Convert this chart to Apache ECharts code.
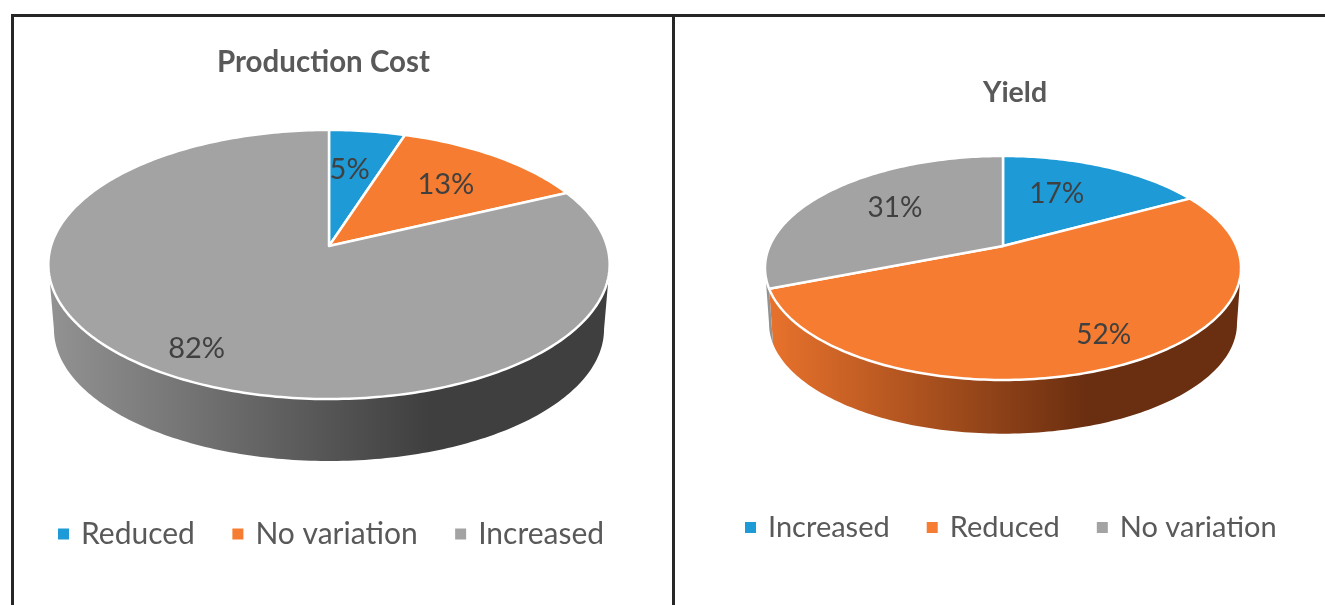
<!DOCTYPE html>
<html>
<head>
<meta charset="utf-8">
<title>Production Cost and Yield</title>
<script src="https://cdn.jsdelivr.net/npm/echarts@6/dist/echarts.min.js"></script>
<style>
  html, body { margin: 0; padding: 0; background: #fff; }
  #page { position: relative; width: 1325px; height: 605px; overflow: hidden; }
  #costChart { position: absolute; left: 0; top: 0; width: 673px; height: 605px; }
  #yieldChart { position: absolute; left: 673px; top: 0; width: 652px; height: 605px; }
  .rule { position: absolute; background: #262626; }
</style>
</head>
<body>
<div id="page">
  <div id="costChart"></div>
  <div id="yieldChart"></div>
  <div class="rule" style="left:11px;top:14px;width:1314px;height:3px"></div>
  <div class="rule" style="left:11px;top:14px;width:3px;height:591px"></div>
  <div class="rule" style="left:672px;top:14px;width:3px;height:591px"></div>
</div>
<script>
const costCategories = ['Reduced', 'No variation', 'Increased'];
const costValues = [5, 13, 82];
const costColors = ['#1e9ad6', '#f57c30', '#a3a3a3'];
const costWalls = [['#1a7fb0', '#0e4a68'], ['#e8722c', '#6a2e10'], ['#929292', '#3f3f3f']];

const yieldCategories = ['Increased', 'Reduced', 'No variation'];
const yieldValues = [17, 52, 31];
const yieldColors = ['#1e9ad6', '#f57c30', '#a3a3a3'];
const yieldWalls = [['#1a7fb0', '#0e4a68'], ['#e8722c', '#6a2e10'], ['#929292', '#3f3f3f']];

const FONT = 'Lato, "Open Sans", sans-serif';

// circle seen in perspective: k moves the centre of the pie above the middle of the ellipse
function project(p, u, v) {
  const d = 1 + p.k * v;
  return [p.cx + p.r * u / d, p.cy - p.s * v / d];
}

function bottomOf(p, pt) {
  return [p.cx + (pt[0] - p.cx) * p.wallScale, p.cy + p.wallDrop + (pt[1] - p.cy) * p.wallScale];
}

function arcPoints(p, from, to) {
  const pts = [];
  const n = Math.max(2, Math.ceil((to - from) / (Math.PI / 180)));
  for (let i = 0; i <= n; i++) {
    const a = from + (to - from) * i / n;
    pts.push(project(p, Math.sin(a), Math.cos(a)));
  }
  return pts;
}

function buildOption(p, categories, values, colors, walls) {
  const total = values.reduce((a, b) => a + b, 0);
  const starts = [];
  values.reduce((sum, v, i) => { starts[i] = sum; return sum + v; }, 0);
  const toAngle = v => v / total * Math.PI * 2;

  // the part of the rim that faces the viewer
  const rimFrom = Math.PI / 2 + Math.asin(p.k);
  const rimTo = Math.PI * 1.5 - Math.asin(p.k);

  const series = categories.map((name, idx) => ({
    type: 'custom',
    name: name,
    coordinateSystem: 'none',
    silent: true,
    animation: false,
    itemStyle: { color: colors[idx] },
    data: [[values[idx]]],
    renderItem: function (params, api) {
      const value = api.value(0);
      const a0 = toAngle(starts[idx]);
      const a1 = toAngle(starts[idx] + value);
      const children = [];

      const w0 = Math.max(a0, rimFrom);
      const w1 = Math.min(a1, rimTo);
      if (w1 > w0) {
        const topEdge = arcPoints(p, w0, w1);
        const lowEdge = topEdge.map(pt => bottomOf(p, pt)).reverse();
        children.push({
          type: 'polygon',
          z2: 0,
          shape: { points: topEdge.concat(lowEdge) },
          style: {
            fill: new echarts.graphic.LinearGradient(p.cx - p.r, 0, p.cx + p.r, 0, [
              { offset: 0, color: walls[idx][0] },
              { offset: p.wallFlat, color: walls[idx][1] },
              { offset: 1, color: walls[idx][1] }
            ], true)
          }
        });
      }

      children.push({
        type: 'polygon',
        z2: 1,
        shape: { points: [[p.cx, p.cy]].concat(arcPoints(p, a0, a1)) },
        style: { fill: colors[idx], stroke: '#fff', lineWidth: 2.5, lineJoin: 'round' }
      });

      const mid = (a0 + a1) / 2;
      const rho = p.labelRadius[idx];
      const at = project(p, Math.sin(mid) * rho, Math.cos(mid) * rho);
      children.push({
        type: 'text',
        z2: 1,
        x: at[0] + p.labelNudge[idx][0],
        y: at[1] + p.labelNudge[idx][1],
        style: {
          text: value + '%',
          fill: '#404040',
          font: p.labelSize + 'px ' + FONT,
          align: 'center',
          verticalAlign: 'middle'
        }
      });
      return { type: 'group', children: children };
    }
  }));

  return {
    backgroundColor: 'transparent',
    animation: false,
    title: {
      text: p.title,
      left: p.titleX,
      top: p.titleY,
      textAlign: 'center',
      textStyle: { color: '#595959', fontFamily: FONT, fontWeight: 'bold', fontSize: p.titleSize }
    },
    legend: {
      left: p.legendX,
      top: p.legendY,
      padding: 0,
      icon: 'rect',
      itemWidth: 11,
      itemHeight: 11,
      itemGap: p.legendGap,
      selectedMode: false,
      data: categories,
      textStyle: { color: '#595959', fontFamily: FONT, fontSize: p.legendSize, padding: [0, 0, 0, 7] }
    },
    series: series
  };
}

const costPie = {
  title: 'Production Cost', titleX: 318.5, titleY: 42, titleSize: 29.5,
  legendX: 58, legendY: 519, legendGap: 37.5, legendSize: 30,
  cx: 329, cy: 246, r: 278, s: 132, k: 0.1375,
  wallDrop: 65, wallScale: 0.98, wallFlat: 0.68,
  labelSize: 29,
  labelRadius: [0.64, 0.68, 0.8],
  labelNudge: [[-5, 0], [0, 2], [-1, 4]]
};

const yieldPie = {
  title: 'Yield', titleX: 337, titleY: 73, titleSize: 28.5,
  legendX: 72, legendY: 513, legendGap: 37, legendSize: 29,
  cx: 330, cy: 246, r: 233.4, s: 107.7, k: 0.196,
  wallDrop: 56, wallScale: 0.983, wallFlat: 0.68,
  labelSize: 28,
  labelRadius: [0.58, 0.8, 0.62],
  labelNudge: [[-9, -3], [8, -2], [4, -3]]
};

const costChart = echarts.init(document.getElementById('costChart'));
costChart.setOption(buildOption(costPie, costCategories, costValues, costColors, costWalls));

const yieldChart = echarts.init(document.getElementById('yieldChart'));
yieldChart.setOption(buildOption(yieldPie, yieldCategories, yieldValues, yieldColors, yieldWalls));
</script>
</body>
</html>
